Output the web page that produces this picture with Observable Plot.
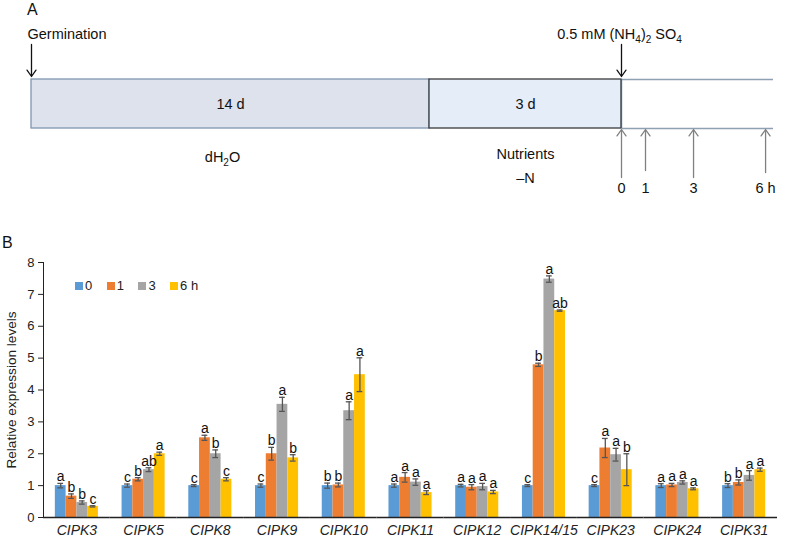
<!DOCTYPE html>
<html><head><meta charset="utf-8">
<script src="https://cdn.jsdelivr.net/npm/d3@7"></script>
<script src="https://cdn.jsdelivr.net/npm/@observablehq/plot@0.6"></script>
<style>
body{margin:0;background:#fff;font-family:"Liberation Sans",Arial,sans-serif;}
#wrap{position:relative;width:788px;height:542px;overflow:hidden;}
#a,#b{position:absolute;left:0;}
#a{top:0}#b{top:200px}
.panel{position:absolute;font-size:16px;color:#111;}
#legend{position:absolute;left:75px;top:278px;display:flex;font-size:13px;color:#222;}
#legend .it{width:31.7px;display:flex;align-items:center;white-space:nowrap;}
#legend .sw{width:8px;height:8px;margin-right:2px;}
g[aria-label^="fx-axis"] text{font-style:italic;font-size:14px;}
g[aria-label="y-axis label"] text{font-size:13.6px;}
</style></head><body>
<div id="wrap"><div id="a"></div><div id="b"></div>
<div class="panel" style="left:27px;top:1px">A</div>
<div class="panel" style="left:2px;top:234px">B</div>
<div id="legend"></div></div>
<script>
// ---------- Panel B data ----------
const genes = ["CIPK3","CIPK5","CIPK8","CIPK9","CIPK10","CIPK11","CIPK12","CIPK14/15","CIPK23","CIPK24","CIPK31"];
const times = ["0","1","3","6 h"];
const colors = ["#5b9bd5","#ed7d31","#a5a5a5","#ffc000"];
const v0 = [1.0,1.0,1.0,1.0,1.0,1.0,1.0,1.0,1.0,1.0,1.0];
const v1 = [0.67,1.2,2.5,2.0,1.02,1.26,0.95,4.79,2.18,1.02,1.1];
const v3 = [0.47,1.5,2.0,3.55,3.35,1.11,0.97,7.48,1.97,1.1,1.32];
const v6 = [0.35,2.0,1.2,1.87,4.48,0.78,0.8,6.49,1.5,0.9,1.5];
const e0 = [0.07,0.05,0.03,0.05,0.08,0.05,0.04,0.03,0.03,0.06,0.06];
const e1 = [0.07,0.05,0.08,0.2,0.06,0.15,0.08,0.05,0.3,0.05,0.08];
const e3 = [0.05,0.06,0.12,0.22,0.28,0.1,0.1,0.1,0.2,0.05,0.15];
const e6 = [0.02,0.05,0.05,0.1,0.53,0.06,0.05,0.02,0.5,0.03,0.05];
const L0 = ["a","c","c","c","b","a","a","c","c","a","b"];
const L1 = ["b","b","a","b","b","a","a","b","a","a","b"];
const L3 = ["b","ab","b","a","a","a","a","a","a","a","a"];
const L6 = ["c","a","c","b","a","a","a","ab","b","a","a"];
const yTicks = [0,1,2,3,4,5,6,7,8];
const yLabel = "Relative expression levels";

// ---------- Panel A schematic data ----------
const stageStart = [0, 14];          // days
const stageEnd = [14, 17];
const stageLabels = ["14 d", "3 d"];
const stageMedia = ["dH₂O", "Nutrients\n–N"];
const sampleHours = [0, 1, 3, 6];
const sampleLabels = ["0", "1", "3", "6 h"];
const eventDays = [0, 17];
const eventLabels = ["Germination", "0.5 mM (NH₄)₂ SO₄"];

const font = '"Liberation Sans", Arial, sans-serif';

// subscript helper: converts unicode subscript digits into shifted tspans
function subscriptify(svg){
  svg.querySelectorAll("text").forEach(t=>{
    if (t.querySelector("tspan")) return;
    const s=t.textContent; if(!/[\u2080-\u2089]/.test(s)) return;
    t.textContent="";
    let shifted=false;
    for (const part of s.match(/[\u2080-\u2089]+|[^\u2080-\u2089]+/g)){
      const ts=document.createElementNS("http://www.w3.org/2000/svg","tspan");
      if(/[\u2080-\u2089]/.test(part)){
        ts.textContent=[...part].map(c=>String.fromCharCode(c.charCodeAt(0)-0x2080+48)).join("");
        ts.setAttribute("font-size","10px"); ts.setAttribute("dy","4"); shifted=true;
      } else { ts.textContent=part; if(shifted){ts.setAttribute("dy","-4"); shifted=false;} }
      t.appendChild(ts);
    }
  });
}

// ---------- Panel A ----------
const dayEnd = 17 + 6.33/24;
const schematic = d3.scaleLinear().domain([0,14,17,dayEnd]).range([31,429,621,773]); // non-proportional timeline
const stages = stageLabels.map((l,i)=>({label:l, start:stageStart[i], end:stageEnd[i], media:stageMedia[i], i}));
const samples = sampleHours.map((h,i)=>({day:17+h/24, label:sampleLabels[i], i}));
const events = eventLabels.map((l,i)=>({day:eventDays[i], label:l, i}));
const tailY = [177,170,177,172];
const mid = (d)=>(d.start+d.end)/2;
const plotA = Plot.plot({
  width:788, height:200, margin:0,
  style:{fontFamily:font, fontSize:"14.5px", background:"transparent", color:"#111"},
  x:{type:"linear", domain:[0,788], range:[0,788], transform:schematic, axis:null},
  y:{domain:[0,200], range:[0,200], axis:null},
  marks:[
    Plot.rect(stages,{x1:"start",x2:"end",y1:79,y2:128,fill:(d)=>d.i===0?"#dee2ed":"#e5edf9",stroke:(d)=>d.i===0?"#7f95b0":"#3a3a3a",strokeWidth:1.3}),
    Plot.ruleY([79,128],{x1:17,x2:dayEnd,stroke:"#8ea0b4",strokeWidth:1.3}),
    Plot.ruleX([17],{y1:79,y2:128,stroke:"#40638f",strokeWidth:1.3}),
    Plot.text(stages,{x:mid,y:104,text:"label",fill:"#111"}),
    Plot.text(stages,{filter:(d)=>d.i===0,x:mid,y:157,dx:-8,text:"media",fill:"#111"}),
    Plot.text(stages,{filter:(d)=>d.i===1,x:mid,y:163,text:"media",lineHeight:1.6,lineAnchor:"middle",fill:"#111"}),
    Plot.text(events,{filter:(d)=>d.i===0,x:"day",y:34,text:"label",textAnchor:"start",dx:-4,fill:"#111"}),
    Plot.text(events,{filter:(d)=>d.i===1,x:"day",y:34,text:"label",textAnchor:"middle",dx:-2,fill:"#111"}),
    Plot.arrow(events,{x1:"day",x2:"day",y1:44,y2:76,stroke:"#111",strokeWidth:1.3,headLength:9,headAngle:70}),
    Plot.arrow(samples,{x1:"day",x2:"day",y1:(d)=>tailY[d.i],y2:129,stroke:"#808080",strokeWidth:1.3,headLength:9,headAngle:70}),
    Plot.text(samples,{x:"day",y:188,text:"label",fill:"#111"})
  ]
});
subscriptify(plotA);
document.getElementById("a").appendChild(plotA);

// ---------- Panel B ----------
const vals=[v0,v1,v3,v6], errs=[e0,e1,e3,e6], lets=[L0,L1,L3,L6];
const data=[];
genes.forEach((g,i)=>times.forEach((t,j)=>data.push({gene:g,time:t,value:vals[j][i],err:errs[j][i],letter:lets[j][i]})));
const plotB = Plot.plot({
  width:788, height:342, marginLeft:43, marginRight:11, marginTop:62, marginBottom:25,
  style:{fontFamily:font, fontSize:"13px", background:"transparent", color:"#222"},
  fx:{domain:genes, padding:0, round:false, label:null, axis:"bottom", tickSize:0, tickPadding:8},
  x:{domain:times, paddingInner:0, paddingOuter:1.1, round:false, axis:null},
  y:{domain:[0,8], ticks:yTicks, tickSize:5, tickPadding:4, line:true, label:yLabel, labelAnchor:"center", labelOffset:37, labelArrow:"none"},
  color:{domain:times, range:colors},
  marks:[
    Plot.barY(data,{fx:"gene",x:"time",y:"value",fill:"time"}),
    Plot.ruleY([0],{stroke:"#222",strokeWidth:1.5}),
    Plot.ruleX(data,{fx:"gene",x:"time",y1:(d)=>d.value-d.err,y2:(d)=>d.value+d.err,stroke:"#555",strokeWidth:1.3}),
    Plot.tickY(data,{fx:"gene",x:"time",y:(d)=>d.value-d.err,stroke:"#555",strokeWidth:1.3,insetLeft:2.5,insetRight:2.5}),
    Plot.tickY(data,{fx:"gene",x:"time",y:(d)=>d.value+d.err,stroke:"#555",strokeWidth:1.3,insetLeft:2.5,insetRight:2.5}),
    Plot.text(data,{fx:"gene",x:"time",y:(d)=>d.value+d.err,text:"letter",lineAnchor:"bottom",dy:-2,fontSize:14,fill:"#111"})
  ]
});
document.getElementById("b").appendChild(plotB);

// legend
const lg=document.getElementById("legend");
times.forEach((t,i)=>{
  const it=document.createElement("div"); it.className="it";
  const sw=document.createElement("span"); sw.className="sw"; sw.style.background=colors[i];
  const tx=document.createElement("span"); tx.textContent=t;
  it.appendChild(sw); it.appendChild(tx); lg.appendChild(it);
});
</script>
</body></html>
